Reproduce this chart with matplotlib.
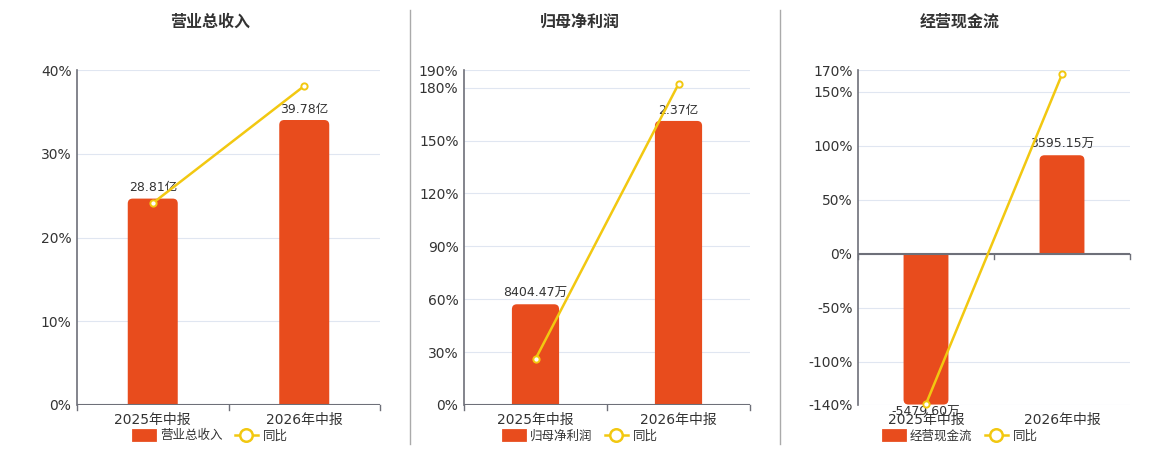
import matplotlib
matplotlib.use('Agg')
import matplotlib.pyplot as plt
from matplotlib.patches import PathPatch, Patch
from matplotlib.path import Path
from matplotlib.lines import Line2D

plt.rcParams['font.family'] = ['DejaVu Sans', 'Noto Sans CJK SC']

# --- dados ---
categories = ['2025年中报', '2026年中报']

# 营业总收入 (亿)
revenue = [28.81, 39.78]
revenue_labels = ['28.81亿', '39.78亿']
revenue_yoy = [24.1, 38.1]

# 归母净利润 (亿)
profit = [0.840447, 2.37]
profit_labels = ['8404.47万', '2.37亿']
profit_yoy = [26.1, 182.0]

# 经营现金流 (万)
cash = [-5479.60, 3595.15]
cash_labels = ['-5479.60万', '3595.15万']
cash_yoy = [-139.0, 166.0]

BAR = '#e84c1d'
LINE = '#f2c811'
TXT = '#333333'
AXC = '#6e7079'
GRID = '#e0e6f1'

W, H = 1160, 450
TOP, BOTTOM = 70, 405

panels = [
    dict(title='营业总收入', vals=revenue, labels=revenue_labels, yoy=revenue_yoy,
         box=(77, 380), pct=(0, 40), ticks=[0, 10, 20, 30, 40], bar_lim=(0, 46.76), cx=210),
    dict(title='归母净利润', vals=profit, labels=profit_labels, yoy=profit_yoy,
         box=(464, 750), pct=(0, 190), ticks=[0, 30, 60, 90, 120, 150, 180, 190],
         bar_lim=(0, 2.795), cx=580),
    dict(title='经营现金流', vals=cash, labels=cash_labels, yoy=cash_yoy,
         box=(858, 1130), pct=(-140, 170), ticks=[-140, -100, -50, 0, 50, 100, 150, 170],
         bar_lim=(-5496, 6698), cx=960),
]

fig = plt.figure(figsize=(W / 100, H / 100), dpi=100)


def arredondar(axb, bars, rpx=5):
    # troca cada barra por um contorno com cantos arredondados na ponta
    pos = axb.get_position()
    xr, yr = axb.get_xlim(), axb.get_ylim()
    rx = rpx * (xr[1] - xr[0]) / (pos.width * W)
    ry = rpx * (yr[1] - yr[0]) / (pos.height * H)
    for b in bars:
        x0, w = b.get_x(), b.get_width()
        x1 = x0 + w
        base = b.get_y()
        far = base + b.get_height()
        s = 1 if far >= base else -1
        verts = [(x0, base), (x0, far - s * ry), (x0, far), (x0 + rx, far),
                 (x1 - rx, far), (x1, far), (x1, far - s * ry), (x1, base), (x0, base)]
        codes = [Path.MOVETO, Path.LINETO, Path.CURVE3, Path.CURVE3,
                 Path.LINETO, Path.CURVE3, Path.CURVE3, Path.LINETO, Path.CLOSEPOLY]
        b.set_visible(False)
        axb.add_patch(PathPatch(Path(verts, codes), fc=BAR, ec='none'))


for p in panels:
    l, r = p['box']
    rect = [l / W, 1 - BOTTOM / H, (r - l) / W, (BOTTOM - TOP) / H]

    # eixo de percentuais (grade + rótulos)
    ax = fig.add_axes(rect)
    ax.set_xlim(-0.5, 1.5)
    ax.set_ylim(*p['pct'])
    ax.set_yticks(p['ticks'])
    ax.set_yticklabels([f'{t}%' for t in p['ticks']])
    ax.set_xticks([0, 1])
    ax.set_xticklabels(categories)
    ax.tick_params(axis='x', length=0, pad=6, labelsize=10, colors=TXT)
    ax.tick_params(axis='y', length=0, pad=4, labelsize=10, colors=TXT)
    ax.grid(axis='y', color=GRID, lw=0.8)
    ax.set_axisbelow(True)
    for s in ['top', 'right', 'bottom']:
        ax.spines[s].set_visible(False)
    ax.spines['left'].set_color(AXC)
    ax.spines['left'].set_linewidth(1.2)

    # barras
    axb = ax.twinx()
    axb.set_ylim(*p['bar_lim'])
    axb.axis('off')
    bars = axb.bar(range(len(categories)), p['vals'], width=0.33, color=BAR)
    arredondar(axb, bars)
    for i, (v, lbl) in enumerate(zip(p['vals'], p['labels'])):
        axb.annotate(lbl, (i, v), xytext=(0, 3 if v >= 0 else -1), textcoords='offset points',
                     ha='center', va='bottom' if v >= 0 else 'top', fontsize=9, color=TXT)

    # linha 同比
    axl = ax.twinx()
    axl.set_ylim(*p['pct'])
    axl.axis('off')
    axl.axhline(0, color=AXC, lw=1.5)
    y0f = (0 - p['pct'][0]) / (p['pct'][1] - p['pct'][0])
    for xb in [-0.5, 0.5, 1.5]:
        axl.plot([xb, xb], [y0f, y0f - 0.015], color=AXC, lw=1,
                 transform=axl.get_xaxis_transform(), clip_on=False)
    axl.plot(range(len(categories)), p['yoy'], color=LINE, lw=1.8, marker='o', ms=4.5,
             mfc='white', mec=LINE, mew=1.4, clip_on=False)

    # título e legenda
    fig.text(p['cx'] / W, 1 - 22 / H, p['title'], ha='center', va='center',
             fontsize=11.5, fontweight='bold', color=TXT)
    handles = [Patch(fc=BAR, ec=BAR, lw=2, joinstyle='round'),
               Line2D([], [], color=LINE, lw=1.8, marker='o', ms=9, mfc='white', mew=1.8)]
    leg = fig.legend(handles, [p['title'], '同比'], loc='center',
                     bbox_to_anchor=(p['cx'] / W, 1 - 436 / H), ncol=2, frameon=False,
                     fontsize=9, handlelength=1.8, handleheight=0.8, columnspacing=1.0,
                     handletextpad=0.4, borderpad=0)
    for t in leg.get_texts():
        t.set_color(TXT)

# separadores
for xs in [410, 780]:
    fig.add_artist(Line2D([xs / W, xs / W], [1 - 10 / H, 1 - 444 / H], color='#aaaaaa',
                          lw=1, transform=fig.transFigure))

fig.savefig('out.png', dpi=100)
